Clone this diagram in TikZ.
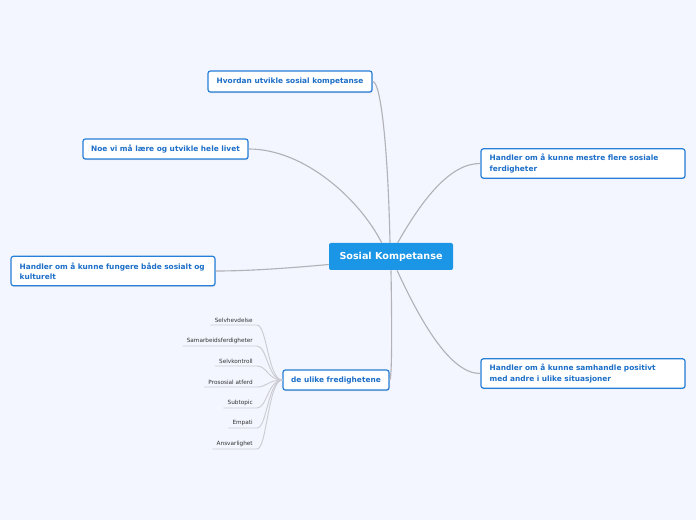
\documentclass[tikz,border=0pt]{standalone}
\usepackage{fontspec}
\setmainfont{DejaVu Sans}
\usetikzlibrary{shadows}
\definecolor{bg}{RGB}{243,246,254}
\definecolor{boxblue}{RGB}{38,127,216}
\definecolor{txtblue}{RGB}{28,110,200}
\definecolor{cfill}{RGB}{27,149,229}
\definecolor{conn}{RGB}{178,178,184}
\definecolor{subconn}{RGB}{204,204,210}
\definecolor{subtxt}{RGB}{50,50,50}
\tikzset{
  topic/.style={draw=boxblue, line width=0.9pt, fill=white, rounded corners=1.8pt,
    text=txtblue, font=\fontsize{5.55}{7.6}\selectfont\bfseries, inner sep=0pt,
    drop shadow={opacity=0.25, shadow xshift=0.4pt, shadow yshift=-0.8pt}},
  twoline/.style={topic, align=left, text width=140pt, minimum width=153pt, minimum height=22pt},
  central/.style={fill=cfill, rounded corners=1.5pt, text=white,
    font=\fontsize{7.2}{8}\selectfont\bfseries, minimum width=93pt, minimum height=20.25pt,
    inner sep=0pt},
  subtopic/.style={text=subtxt, font=\fontsize{4.3}{5}\selectfont, inner xsep=3pt, inner ysep=1.8pt, anchor=south east},
  link/.style={draw=conn, line width=0.85pt},
  sublink/.style={draw=subconn, line width=0.7pt},
}
\begin{document}
\begin{tikzpicture}[x=0.75pt, y=-0.75pt]
\fill[bg] (0,0) rectangle (696,520);
\useasboundingbox (0,0) rectangle (696,520);

\node[central] (c) at (391,256.5) {Sosial Kompetanse};
\node[topic, minimum width=123pt, minimum height=15.75pt] (hv) at (290,81.5) {Hvordan utvikle sosial kompetanse};
\node[topic, minimum width=123.75pt, minimum height=15pt] (noe) at (165.5,149) {Noe vi må lære og utvikle hele livet};
\node[twoline] (mes) at (583,163.5) {Handler om å kunne mestre flere sosiale\\ferdigheter};
\node[twoline] (fun) at (113,271) {Handler om å kunne fungere både sosialt og\\kulturelt};
\node[twoline] (sam) at (583,373.5) {Handler om å kunne samhandle positivt\\med andre i ulike situasjoner};
\node[topic, minimum width=79.5pt, minimum height=15pt] (ul) at (336,380) {de ulike fredighetene};

\draw[link] ([xshift=-0.75pt]c.north) .. controls (388,150) and (381,81) .. (hv.east);
\draw[link] ([xshift=-7pt]c.north) .. controls (360,200) and (305,149) .. (noe.east);
\draw[link] ([xshift=5pt]c.north) .. controls (422,200) and (450,163) .. (mes.west);
\draw[link] ([yshift=-6pt]c.west) .. controls (290,268) and (250,271) .. (fun.east);
\draw[link] ([xshift=4.5pt]c.south) .. controls (420,320) and (450,374) .. (sam.west);
\draw[link] (c.south) .. controls (392,330) and (392,380) .. (ul.east);

\foreach \n/\t/\y in {s1/Selvhevdelse/325, s2/Samarbeidsferdigheter/346, s3/Selvkontroll/366, s4/Prososial atferd/387, s5/Subtopic/408, s6/Empati/428, s7/Ansvarlighet/449}{
  \node[subtopic] (\n) at (257,\y) {\t};
  \draw[sublink] (\n.south west) -- (\n.south east) .. controls +(10,0) and (268,380) .. (ul.west);
}
\end{tikzpicture}
\end{document}
